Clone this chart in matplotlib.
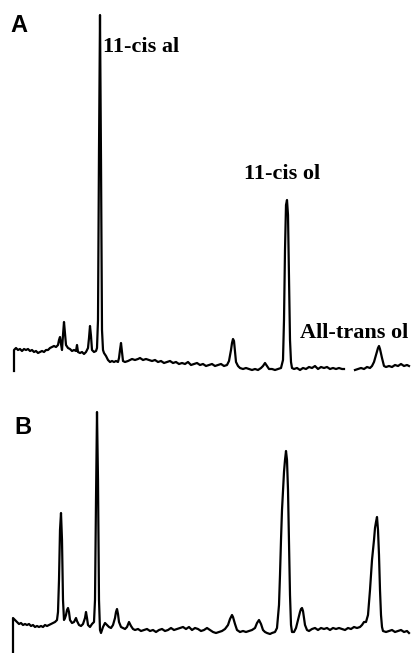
import numpy as np
import matplotlib
matplotlib.use("Agg")
import matplotlib.pyplot as plt

# panel A trace: retention time (min) and detector signal (arb. units)
time_a = [0.0, 0.0, 0.2, 0.4, 0.6, 0.8, 1.0, 1.2, 1.4, 1.6, 1.8, 2.0, 2.2, 2.4, 2.6, 2.8, 3.0,
          3.2, 3.4, 3.6, 3.8, 4.0, 4.2, 4.4, 4.5, 4.6, 4.7, 4.8, 4.9, 5.0, 5.1, 5.2, 5.4, 5.6,
          5.8, 6.0, 6.2, 6.3, 6.4, 6.6, 6.8, 7.0, 7.2, 7.4, 7.5, 7.6, 7.7, 7.8, 8.0, 8.2, 8.3,
          8.4, 8.5, 8.6, 8.7, 8.8, 8.9, 9.0, 9.2, 9.4, 9.6, 9.8, 10.0, 10.2, 10.4, 10.5, 10.6,
          10.7, 10.8, 10.9, 11.1, 11.4, 11.6, 11.8, 12.1, 12.4, 12.6, 12.9, 13.2, 13.5, 13.8,
          14.1, 14.4, 14.7, 15.0, 15.3, 15.6, 15.9, 16.2, 16.5, 16.8, 17.1, 17.4, 17.7, 18.0,
          18.3, 18.6, 18.9, 19.2, 19.5, 19.8, 20.1, 20.4, 20.7, 21.0, 21.3, 21.5, 21.7, 21.8,
          21.9, 22.0, 22.1, 22.2, 22.4, 22.6, 22.9, 23.2, 23.5, 23.8, 24.1, 24.4, 24.7, 24.9,
          25.1, 25.3, 25.5, 25.8, 26.1, 26.4, 26.7, 26.9, 27.0, 27.1, 27.2, 27.3, 27.4, 27.5,
          27.6, 27.7, 27.8, 28.0, 28.3, 28.6, 28.9, 29.2, 29.5, 29.8, 30.1, 30.4, 30.7, 31.0,
          31.3, 31.6, 31.9, 32.2, 32.5, 32.8, 33.0, 33.5, 34.1, 34.4, 34.7, 35.0, 35.3, 35.6,
          35.8, 36.0, 36.2, 36.4, 36.5, 36.6, 36.8, 37.0, 37.2, 37.5, 37.8, 38.1, 38.4, 38.7,
          39.0, 39.3, 39.5]
signal_a = [-1, 20, 22, 20, 21, 19, 21, 20, 21, 19, 20, 18, 19, 17, 18, 19, 18,
            20, 20, 22, 23, 24, 23, 25, 30, 33, 26, 20, 35, 48, 37, 25, 22, 21,
            19, 20, 19, 25, 18, 17, 18, 16, 18, 22, 32, 44, 34, 20, 18, 19, 22,
            50, 220, 355, 210, 40, 20, 17, 14, 10, 8, 9, 8, 9, 8, 12, 20,
            27, 18, 9, 8, 9, 10, 11, 10, 11, 12, 10, 11, 10, 9,
            10, 8, 9, 7, 8, 9, 7, 8, 6, 7, 6, 8, 5, 6,
            7, 5, 6, 4, 5, 6, 4, 5, 6, 4, 5, 9, 20, 27,
            31, 29, 18, 8, 4, 2, 1, 2, 1, 0, 1, 0, 2, 4,
            7, 4, 1, 1, 0, 1, 2, 10, 50, 120, 165, 170, 155, 90,
            30, 8, 2, 1, 2, 0, 2, 1, 3, 2, 4, 1, 3, 2,
            3, 1, 2, 1, 2, 1, 1, np.nan, 0, 1, 2, 1, 3, 2,
            4, 8, 15, 22, 24, 21, 12, 4, 3, 4, 3, 5, 4, 6,
            4, 5, 4]

# panel B trace
time_b = [-0.1, -0.1, 0.1, 0.3, 0.5, 0.7, 0.9, 1.1, 1.3, 1.5, 1.7, 1.9, 2.1, 2.3, 2.5, 2.7,
          2.9, 3.1, 3.3, 3.5, 3.7, 3.9, 4.1, 4.3, 4.4, 4.5, 4.6, 4.7, 4.8, 4.9, 5.0, 5.1, 5.2,
          5.3, 5.4, 5.5, 5.6, 5.8, 6.0, 6.1, 6.2, 6.3, 6.5, 6.7, 6.9, 7.1, 7.2, 7.3, 7.4, 7.6,
          7.8, 8.0, 8.1, 8.2, 8.3, 8.4, 8.5, 8.6, 8.7, 8.9, 9.1, 9.3, 9.5, 9.7, 9.9, 10.1, 10.2,
          10.3, 10.4, 10.5, 10.7, 10.9, 11.1, 11.3, 11.5, 11.7, 11.9, 12.1, 12.4, 12.7, 13.0,
          13.3, 13.6, 13.9, 14.2, 14.5, 14.8, 15.1, 15.4, 15.7, 16.0, 16.3, 16.6, 16.9, 17.2,
          17.5, 17.8, 18.1, 18.4, 18.7, 19.0, 19.3, 19.6, 19.9, 20.2, 20.5, 20.8, 21.1, 21.4,
          21.6, 21.8, 21.9, 22.1, 22.3, 22.6, 22.9, 23.2, 23.5, 23.8, 24.1, 24.3, 24.5, 24.7,
          24.9, 25.1, 25.3, 25.6, 25.8, 26.1, 26.3, 26.5, 26.6, 26.7, 26.8, 26.9, 27.0, 27.1,
          27.2, 27.3, 27.4, 27.5, 27.6, 27.7, 27.8, 28.0, 28.2, 28.4, 28.6, 28.7, 28.8, 28.9,
          29.0, 29.1, 29.3, 29.5, 29.8, 30.1, 30.4, 30.7, 31.0, 31.3, 31.6, 31.9, 32.2, 32.5,
          32.8, 33.1, 33.4, 33.7, 34.0, 34.3, 34.6, 34.8, 35.0, 35.2, 35.4, 35.6, 35.8, 36.0,
          36.1, 36.2, 36.3, 36.4, 36.5, 36.6, 36.7, 36.8, 36.9, 37.2, 37.5, 37.8, 38.1, 38.4,
          38.7, 39.0, 39.3, 39.5]
signal_b = [-12, 22, 20, 18, 16, 17, 15, 16, 15, 16, 14, 15, 13, 14, 13, 14,
            13, 15, 14, 15, 16, 17, 18, 20, 28, 60, 110, 127, 100, 40, 20, 22, 25,
            30, 32, 28, 20, 17, 18, 20, 22, 19, 15, 14, 16, 22, 28, 22, 15, 13,
            16, 18, 40, 140, 228, 160, 40, 10, 7, 13, 17, 15, 13, 12, 15, 22, 28,
            31, 26, 18, 13, 12, 11, 13, 18, 14, 11, 10, 11, 9, 10,
            11, 9, 10, 8, 10, 11, 9, 10, 12, 10, 11, 12, 13, 11,
            13, 10, 12, 11, 9, 10, 12, 10, 8, 7, 8, 9, 11, 15,
            21, 25, 23, 16, 10, 8, 9, 8, 9, 10, 12, 17, 20, 16,
            10, 8, 7, 6, 7, 8, 12, 35, 65, 100, 130, 150, 168, 180,
            189, 180, 150, 100, 45, 15, 8, 8, 12, 20, 28, 31, 32, 29,
            22, 15, 10, 9, 11, 12, 10, 12, 11, 12, 10, 12, 11, 12,
            11, 10, 12, 11, 13, 12, 13, 15, 18, 18, 25, 50, 80, 100,
            112, 118, 123, 110, 85, 50, 25, 13, 9, 8, 9, 10, 8, 9,
            10, 8, 9, 7]

fig = plt.figure(figsize=(4.11, 6.53), dpi=100)
ax_a = fig.add_axes([0, 1 - 380 / 653, 1, 380 / 653])
ax_b = fig.add_axes([0, 0, 1, 273 / 653])

ax_a.plot(time_a, signal_a, color="black", lw=1.6, solid_joinstyle="round")
ax_b.plot(time_b, signal_b, color="black", lw=1.6, solid_joinstyle="round")

ax_a.set_xlim(-1.4, 39.7)
ax_a.set_ylim(-10, 370)
ax_b.set_xlim(-1.4, 39.7)
ax_b.set_ylim(-13, 260)
for ax in (ax_a, ax_b):
    ax.axis("off")

peak_font = dict(family="Liberation Serif", fontweight="bold", fontsize=16)
ax_a.text(8.9, 323, "11-cis al", ha="left", va="center", **peak_font)
ax_a.text(26.8, 196, "11-cis ol", ha="center", va="center", **peak_font)
ax_a.text(39.4, 37, "All-trans ol", ha="right", va="center", **peak_font)

panel_font = dict(family="Liberation Sans", fontweight="bold", fontsize=17)
fig.text(10 / 411, 1 - 25 / 653, "A", ha="left", va="center", **panel_font)
fig.text(14 / 411, 1 - 428 / 653, "B", ha="left", va="center", **panel_font)

fig.savefig("out.png", dpi=100, facecolor="white")
